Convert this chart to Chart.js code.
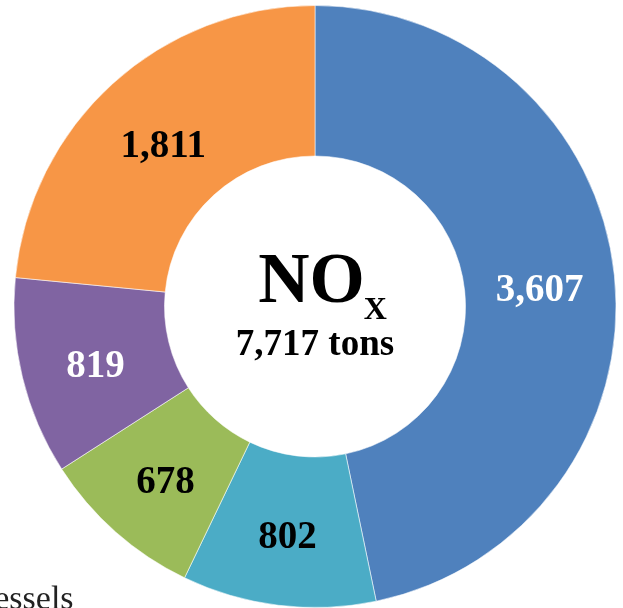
<!DOCTYPE html>
<html>
<head>
<meta charset="utf-8">
<script src="https://cdn.jsdelivr.net/npm/chart.js@4/dist/chart.umd.min.js"></script>
<style>
  html, body { margin: 0; padding: 0; background: #ffffff; overflow: hidden; }
  #wrap { position: relative; width: 623px; height: 608px; }
  #c { position: absolute; left: 0; top: 0; }
</style>
</head>
<body>
<div id="wrap">
  <canvas id="c" width="623" height="608"></canvas>
</div>
<script>
const categories = ["Source 1", "Source 2", "Source 3", "Source 4", "Source 5"];
const values = [3607, 802, 678, 819, 1811];
const valueLabels = ["3,607", "802", "678", "819", "1,811"];
const sliceColors = ["#4F81BD", "#4BACC6", "#9BBB59", "#8064A2", "#F79646"];
const labelColors = ["#ffffff", "#000000", "#000000", "#ffffff", "#000000"];
const centerTitle = "NO";
const centerSub = "X";
const centerTotal = "7,717 tons";
const cornerNote = "Vessels";

const SERIF = '"Liberation Serif", "Times New Roman", serif';

const labelPlugin = {
  id: 'labels',
  afterDatasetsDraw(chart) {
    const ctx = chart.ctx;
    const meta = chart.getDatasetMeta(0);
    ctx.save();
    ctx.font = 'bold 39px ' + SERIF;
    ctx.textAlign = 'center';
    ctx.textBaseline = 'alphabetic';
    meta.data.forEach((arc, i) => {
      const p = arc.tooltipPosition();
      ctx.fillStyle = labelColors[i];
      ctx.fillText(valueLabels[i], p.x, p.y + 17.5);
    });
    // center text
    const cx = meta.data[0].x, cy = meta.data[0].y;
    ctx.fillStyle = '#000';
    ctx.textAlign = 'left';
    ctx.font = 'bold 71px ' + SERIF;
    const wNO = ctx.measureText(centerTitle).width;
    ctx.font = 'bold 32px ' + SERIF;
    const wX = ctx.measureText(centerSub).width;
    const startX = cx + 8 - (wNO + wX) / 2;
    ctx.font = 'bold 71px ' + SERIF;
    ctx.fillText(centerTitle, startX, cy - 5);
    ctx.font = 'bold 32px ' + SERIF;
    ctx.fillText(centerSub, startX + wNO - 1, cy + 12);
    ctx.font = 'bold 37px ' + SERIF;
    ctx.textAlign = 'center';
    ctx.fillText(centerTotal, cx, cy + 48);
    // corner note (partially cut at the left edge)
    ctx.font = '34px ' + SERIF;
    ctx.textAlign = 'left';
    ctx.fillStyle = '#222';
    const wV = ctx.measureText('V').width;
    ctx.fillText(cornerNote, -wV - 2, 609);
    ctx.restore();
  }
};

new Chart(document.getElementById('c'), {
  type: 'doughnut',
  data: {
    labels: categories,
    datasets: [{
      data: values,
      backgroundColor: sliceColors,
      borderColor: 'rgba(255,255,255,0.55)',
      borderWidth: 1,
      hoverOffset: 0
    }]
  },
  options: {
    responsive: false,
    animation: false,
    cutout: '50%',
    rotation: 0,
    layout: { padding: { left: 13, right: 6, top: 5, bottom: 0 } },
    plugins: {
      legend: { display: false },
      tooltip: { enabled: false },
      title: { display: false }
    }
  },
  plugins: [labelPlugin]
});
</script>
</body>
</html>
